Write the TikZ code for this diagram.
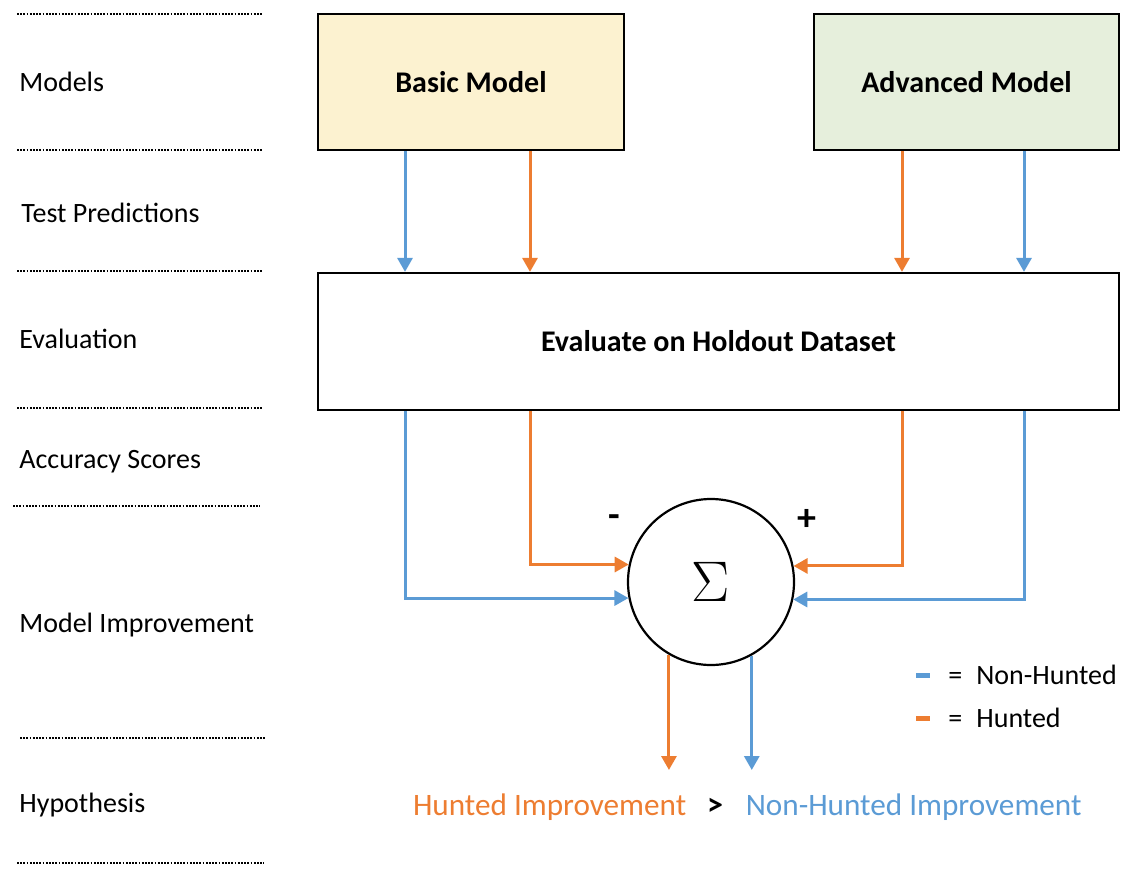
\documentclass[tikz,border=0pt]{standalone}
\usepackage{fontspec}
\setmainfont{Carlito}
\usetikzlibrary{arrows.meta,positioning}
\definecolor{nonhunt}{RGB}{91,155,213}
\definecolor{hunt}{RGB}{237,125,49}
\definecolor{basicfill}{RGB}{252,242,208}
\definecolor{advfill}{RGB}{230,239,220}
\tikzset{
  stage/.style={anchor=base west,inner sep=0pt,font=\fontsize{14}{17}\selectfont},
  sep/.style={line width=1.1pt,dash pattern=on 0.9pt off 0.7pt},
  box/.style={draw,line width=1.1pt,inner sep=0pt,font=\fontsize{15}{18}\selectfont\bfseries},
  arr/.style={line width=1.5pt,-{Triangle[width=7.5pt,length=7pt]}},
  hyp/.style={inner sep=0pt,font=\fontsize{15.6}{19}\selectfont},
  key/.style={inner sep=0pt,font=\fontsize{14}{17}\selectfont},
  sign/.style={inner sep=0pt,font=\fontsize{19}{22}\selectfont\bfseries}
}
\begin{document}
\begin{tikzpicture}[x=0.5pt,y=-0.5pt]
    \useasboundingbox (0,0) rectangle (1134,882);

    % stage separators and names
    \foreach \ya/\xa/\xb in {14/17/262,150/17/262,271/17/262,408/17/262,506/13/260,738/20/266,863/17/264} {
      \draw[sep] (\xa,\ya) -- (\xb,\ya);
    }
    \foreach \x/\y/\name in {19/92/Models,21/222/Test Predictions,19/348/Evaluation,19/468/Accuracy Scores,19/632/Model Improvement,19/812/Hypothesis} {
      \node[stage] at (\x,\y) {\name};
    }

    % boxes
    \node[box,fill=basicfill,minimum width=153pt,minimum height=68pt] (basic) at (471,82) {Basic Model};
    \node[box,fill=advfill,minimum width=152.5pt,minimum height=68pt] (advanced) at (966.5,82) {Advanced Model};
    \node[box,minimum width=400.5pt,minimum height=68.5pt] (eval) at (718.5,341.5) {Evaluate on Holdout Dataset};
    \node[draw,circle,line width=1.1pt,minimum size=83pt,inner sep=0pt] (sum) at (711,582) {\scalebox{1.15}{\Huge$\Sigma$}};
    \node[sign] (minus) at (614,521) {-};
    \node[sign] (plus) at (807,520) {+};

    % columns
    \coordinate (bn) at (405,0);
    \coordinate (bh) at (530,0);
    \coordinate (ah) at (902,0);
    \coordinate (an) at (1024,0);
    \coordinate (tip) at (0,770);

    \foreach \c/\col/\src in {bn/nonhunt/basic,bh/hunt/basic,ah/hunt/advanced,an/nonhunt/advanced} {
      \draw[arr,\col] (\src.south -| \c) -- (eval.north -| \c);
    }
    \draw[arr,nonhunt] (eval.south -| bn) |- (sum.191.8);
    \draw[arr,hunt] (eval.south -| bh) |- (sum.168.2);
    \draw[arr,hunt] (eval.south -| ah) |- (sum.11.8);
    \draw[arr,nonhunt] (eval.south -| an) |- (sum.348.2);
    \draw[arr,hunt] (sum.240.4) -- (sum.240.4 |- tip);
    \draw[arr,nonhunt] (sum.299.6) -- (sum.299.6 |- tip);

    % hypothesis
    \node[hyp,font=\fontsize{16}{19}\selectfont\bfseries,anchor=base] (gt) at (715,815) {>};
    \node[hyp,hunt,base left=10pt of gt] (himp) {Hunted Improvement};
    \node[hyp,nonhunt,base right=11pt of gt] (nimp) {Non-Hunted Improvement};

    % legend
    \node[fill=nonhunt,inner sep=0pt,minimum width=7pt,minimum height=2.5pt] (keyn) at (923,675) {};
    \node[fill=hunt,inner sep=0pt,minimum width=7pt,minimum height=2.5pt] (keyh) at (923,718) {};
    \node[key,anchor=base west] (lbln) at (948,684) {=\hspace{7pt}Non-Hunted};
    \node[key,anchor=base west] (lblh) at (948,727) {=\hspace{7pt}Hunted};
  \end{tikzpicture}
\end{document}
